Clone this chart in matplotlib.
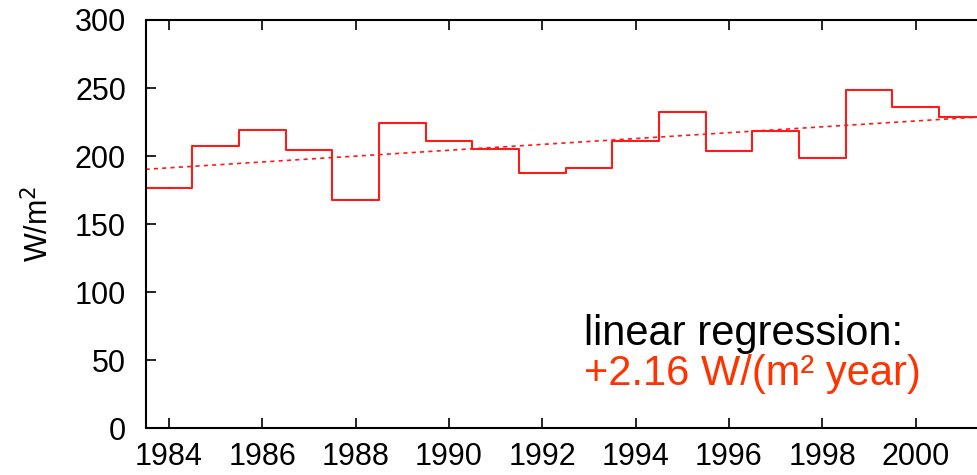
import numpy as np
import matplotlib
matplotlib.use('Agg')
import matplotlib.pyplot as plt

plt.rcParams['font.family'] = ['Liberation Sans', 'DejaVu Sans']

# yearly values (W/m2)
years = [1984, 1985, 1986, 1987, 1988, 1989, 1990, 1991, 1992,
         1993, 1994, 1995, 1996, 1997, 1998, 1999, 2000, 2001]
values = [176.5, 207.1, 219.3, 204.6, 168.0, 224.7, 211.2, 205.4, 187.5,
          191.4, 211.5, 232.3, 204.1, 218.6, 199.0, 248.7, 236.0, 228.9]
xticks = [1984, 1986, 1988, 1990, 1992, 1994, 1996, 1998, 2000]
yticks = [0, 50, 100, 150, 200, 250, 300]

fig = plt.figure(figsize=(9.78, 4.75), dpi=100)
ax = fig.add_axes([0.1488, 0.0979, 0.859, 0.860])

# step curve, each year as a 1-year wide bin
ax.step(years, values, where='mid', color='#ff1a1a', lw=1.5)
# extend the first and last bins to the half years
ax.plot([years[0] - 0.5, years[0]], [values[0], values[0]], color='#ff1a1a', lw=1.5)
ax.plot([years[-1], years[-1] + 0.5], [values[-1], values[-1]], color='#ff1a1a', lw=1.5)

# linear regression
coef = np.polyfit(years, values, 1)
xr = np.array([1983.5, 2001.5])
ax.plot(xr, np.polyval(coef, xr), color='#ff1a1a', lw=1.2, ls=(0, (2.5, 2.5)))

ax.set_xlim(1983.5, 2001.5)
ax.set_ylim(0, 300)
ax.set_xticks(xticks)
ax.set_yticks(yticks)
ax.tick_params(direction='in', length=7, width=1.2, labelsize=22,
               top=True, right=False)
ax.tick_params(axis='x', pad=10)
ax.tick_params(axis='y', pad=14)
for s in ax.spines.values():
    s.set_linewidth(1.5)
ax.set_ylabel('W/m$^2$', fontsize=22, labelpad=14)

fig.text(0.597, 0.2737, 'linear regression:', fontsize=30, color='black', va='baseline')
fig.text(0.597, 0.1895, '+2.16 W/(m² year)', fontsize=30, color='#ff3300', va='baseline')

fig.savefig('out.png', dpi=100)
